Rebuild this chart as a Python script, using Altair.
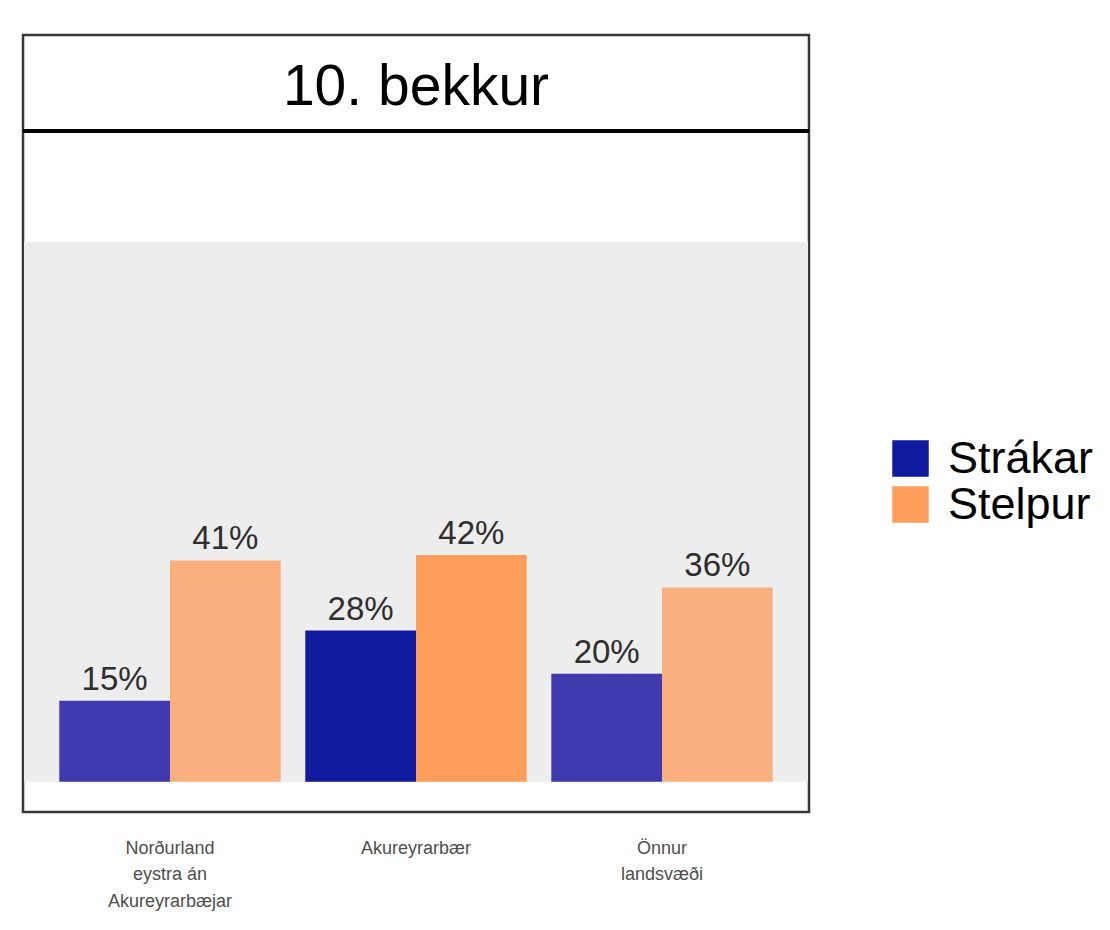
import altair as alt
import pandas as pd

title_text = "10. bekkur"
regions = ["Norðurland\neystra án\nAkureyrarbæjar", "Akureyrarbær", "Önnur\nlandsvæði"]
genders = ["Strákar", "Stelpur"]
strakar = [15, 28, 20]
stelpur = [41, 42, 36]
highlight = "Akureyrarbær"

gender_colors = ["#0f1a9e", "#fe9e5a"]
muted_colors = ["#403ab0", "#fab07e"]

rows = []
for i, r in enumerate(regions):
    for g, vals in zip(range(2), [strakar, stelpur]):
        v = vals[i]
        col = gender_colors[g] if r == highlight else muted_colors[g]
        rows.append({"region": r, "gender": genders[g], "value": v,
                     "label": f"{v}%", "col": col})
df = pd.DataFrame(rows)

W, H = 786, 777
FONT = "Liberation Sans"

yscale = alt.Scale(domain=[-5.6, 138.3], nice=False, zero=False)
xscale = alt.Scale(domain=regions, paddingInner=0.1, paddingOuter=0.1475)

bg = alt.Chart(pd.DataFrame({"a": [0]})).mark_rect(color="#ededed").encode(
    x=alt.value(1), x2=alt.value(W - 1),
    y=alt.Y(datum=100, scale=yscale, axis=None), y2=alt.Y2(datum=0),
)

base = alt.Chart(df)

bars = base.mark_bar().encode(
    x=alt.X("region:N", sort=regions, scale=xscale,
            axis=alt.Axis(title=None, domain=False, ticks=False, labelAngle=0,
                          labelExpr="split(datum.label, '\\n')",
                          labelFontSize=18, labelFont=FONT, labelColor="#4d4d4d",
                          labelLineHeight=26.5, labelPadding=27)),
    xOffset=alt.XOffset("gender:N", sort=genders,
                        scale=alt.Scale(paddingInner=0, paddingOuter=0)),
    y=alt.Y("value:Q", scale=yscale, axis=None),
    y2=alt.Y2(datum=0),
    fill=alt.Fill("col:N", scale=None),
)

legend_layer = base.mark_square(opacity=0, size=0).encode(
    x=alt.X("region:N", sort=regions, scale=xscale),
    y=alt.Y("value:Q", scale=yscale),
    color=alt.Color("gender:N", sort=genders,
                    scale=alt.Scale(domain=genders, range=gender_colors),
                    legend=alt.Legend(title=None, orient="none", legendX=865, legendY=401,
                                      symbolType="square", symbolSize=1330,
                                      symbolOpacity=1, symbolStrokeWidth=0,
                                      labelFontSize=45, labelFont=FONT, labelColor="#000000",
                                      labelOffset=15, rowPadding=0, padding=0,
                                      labelLimit=300)),
)

labels = base.mark_text(baseline="alphabetic", dy=-11, fontSize=33, font=FONT,
                        color="#2e2e2e").encode(
    x=alt.X("region:N", sort=regions, scale=xscale),
    xOffset=alt.XOffset("gender:N", sort=genders),
    y=alt.Y("value:Q", scale=yscale),
    text="label:N",
)

strip_line = alt.Chart(pd.DataFrame({"a": [0]})).mark_rule(color="#000000", strokeWidth=4).encode(
    x=alt.value(0), x2=alt.value(W), y=alt.value(96),
)

title = alt.Chart(pd.DataFrame({"t": [title_text]})).mark_text(
    fontSize=57, font=FONT, color="#000000", baseline="alphabetic", align="center"
).encode(x=alt.value(W / 2), y=alt.value(70), text="t:N")

chart = alt.layer(bg, bars, legend_layer, labels, strip_line, title).properties(
    width=W, height=H,
    background="white",
    autosize=alt.AutoSizeParams(type="none"),
    padding={"left": 15, "top": 27, "right": 292, "bottom": 110},
).configure_view(stroke="#383838", strokeWidth=2.5)

chart.save("out.html", embed_options={"renderer": "svg", "actions": False})
